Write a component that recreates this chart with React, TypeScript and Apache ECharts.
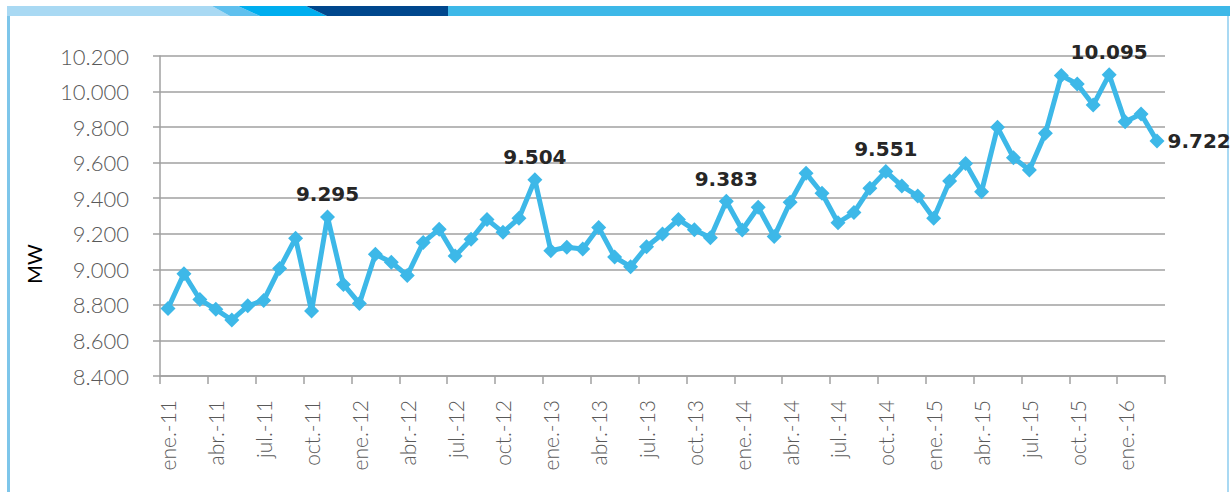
import React, { useEffect, useRef } from "react";
import * as echarts from "echarts";

const MONTHS = ["ene.", "feb.", "mar.", "abr.", "may.", "jun.", "jul.", "ago.", "sept.", "oct.", "nov.", "dic."];
const YEARS = ["11", "12", "13", "14", "15", "16"];
const MONTH_COUNT = 63;
const CATEGORIES: string[] = [];
for (let i = 0; i < MONTH_COUNT; i++) {
  CATEGORIES.push(MONTHS[i % 12] + "-" + YEARS[Math.floor(i / 12)]);
}

const VALUES_MW = [
  8780, 8975, 8830, 8775, 8715, 8795, 8825, 9005, 9175, 8765, 9295, 8915,
  8808, 9085, 9040, 8966, 9151, 9226, 9075, 9169, 9281, 9208, 9287, 9504,
  9105, 9124, 9114, 9236, 9069, 9015, 9127, 9199, 9281, 9222, 9178, 9383,
  9221, 9349, 9184, 9377, 9540, 9428, 9262, 9319, 9456, 9551, 9469, 9412,
  9287, 9497, 9596, 9437, 9799, 9628, 9559, 9765, 10090, 10043, 9924, 10095,
  9830, 9874, 9722,
];

const LABELED_INDEX = [10, 23, 35, 45, 59, 62];
const LABEL_OFFSET: number[][] = [[-4, -3], [11, -2], [8, -5], [16, -4], [30, 1], [0, 0]];

const Y_MIN = 8400;
const Y_MAX = 10200;
const Y_STEP = 200;

const fmt = (v: number) => {
  const s = Math.round(v).toString();
  return s.replace(/\B(?=(\d{3})+(?!\d))/g, ".");
};

export default function App() {
  const ref = useRef<HTMLDivElement>(null);
  useEffect(() => {
    document.body.style.margin = "0";
    const chart = echarts.init(ref.current!, undefined, { renderer: "svg" });
    const data = VALUES_MW.map((v, i) => {
      const k = LABELED_INDEX.indexOf(i);
      if (k < 0) return v;
      const isLast = i === VALUES_MW.length - 1;
      return {
        value: v,
        label: {
          show: true,
          position: isLast ? "right" : "top",
          distance: isLast ? 3 : 5,
          offset: LABEL_OFFSET[k],
          formatter: (p: any) => fmt(p.value),
          fontFamily: "DejaVu Sans",
          fontWeight: "bold",
          fontSize: 20,
          color: "#262626",
        },
      };
    });
    chart.setOption({
      animation: false,
      backgroundColor: "#ffffff",
      grid: { left: 160, right: 65, top: 56, bottom: 116, containLabel: false },
      xAxis: {
        type: "category",
        data: CATEGORIES,
        boundaryGap: true,
        axisLine: { show: true, lineStyle: { color: "#a0a0a0", width: 1.5 } },
        axisTick: { show: true, interval: 2, length: 8, lineStyle: { color: "#a0a0a0", width: 1.5 } },
        axisLabel: {
          interval: 2,
          rotate: 90,
          margin: 24,
          fontFamily: "Lato",
          fontWeight: 300,
          fontSize: 21,
          color: "#595959",
        },
        splitLine: { show: false },
      },
      yAxis: {
        type: "value",
        min: Y_MIN,
        max: Y_MAX,
        interval: Y_STEP,
        axisLine: { show: true, lineStyle: { color: "#a0a0a0", width: 1.5 } },
        axisTick: { show: true, length: 7, lineStyle: { color: "#a0a0a0", width: 1.5 } },
        axisLabel: {
          margin: 31,
          formatter: (v: number) => fmt(v),
          fontFamily: "Lato",
          fontWeight: 300,
          fontSize: 22,
          color: "#595959",
        },
        splitLine: { show: true, lineStyle: { color: "#a0a0a0", width: 1.5 } },
      },
      series: [
        {
          type: "line",
          data,
          symbol: "diamond",
          symbolSize: 15,
          showSymbol: true,
          showAllSymbol: true,
          itemStyle: { color: "#3db8e8" },
          lineStyle: { color: "#3db8e8", width: 5 },
          label: { show: false },
          labelLayout: { hideOverlap: false },
        },
      ],
      graphic: [
        { type: "polygon", silent: true, shape: { points: [[7, 6], [212, 6], [230, 16], [7, 16]] }, style: { fill: "#a9d9f3" } },
        { type: "polygon", silent: true, shape: { points: [[212, 6], [238, 6], [260, 16], [230, 16]] }, style: { fill: "#5fc0ee" } },
        { type: "polygon", silent: true, shape: { points: [[238, 6], [306, 6], [327, 16], [260, 16]] }, style: { fill: "#00aeef" } },
        { type: "polygon", silent: true, shape: { points: [[306, 6], [448, 6], [448, 16], [327, 16]] }, style: { fill: "#00478d" } },
        { type: "rect", silent: true, shape: { x: 448, y: 6, width: 782, height: 10 }, style: { fill: "#3db8e8" } },
        { type: "rect", silent: true, shape: { x: 7, y: 16, width: 3, height: 476 }, style: { fill: "#7ec6ea" } },
        { type: "rect", silent: true, shape: { x: 1227, y: 16, width: 2, height: 476 }, style: { fill: "#a9d9f3" } },
        {
          type: "text",
          silent: true,
          x: 34,
          y: 264,
          rotation: Math.PI / 2,
          style: {
            text: "MW",
            fontFamily: "Lato",
            fontSize: 20,
            fill: "#000000",
            align: "center",
            verticalAlign: "middle",
          },
        },
      ],
    });
    return () => chart.dispose();
  }, []);
  return <div ref={ref} style={{ position: "fixed", left: 0, top: 0, width: 1230, height: 492 }} />;
}
